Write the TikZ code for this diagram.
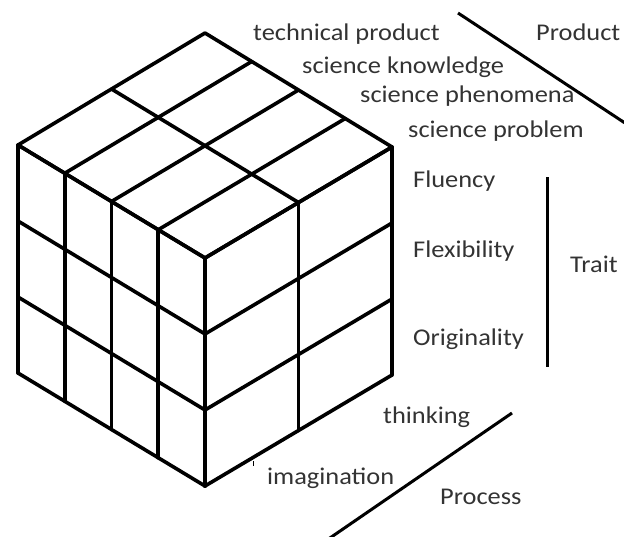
\documentclass[tikz,border=0pt]{standalone}
\usepackage{fontspec}
\setmainfont[FakeStretch=1.1]{Carlito}
\usetikzlibrary{calc}
\begin{document}
\begin{tikzpicture}[x=1pt,y=-1pt,
  edge/.style={line width=3.6pt,line cap=round,line join=round},
  axisline/.style={line width=3pt},
  lbl/.style={anchor=base west,inner sep=0pt,text=black!80,font=\fontsize{24}{24}\selectfont}]
\useasboundingbox (0,0) rectangle (624,536);
% cube corners
\coordinate (T) at (205,33);
\coordinate (L) at (18,145);
\coordinate (F) at (205,258);
\coordinate (R) at (392,147);
% left face: 4 columns, 3 rows
\foreach \i in {0,...,4}{
  \draw[edge] ($(L)!\i/4!(F)$) -- ++(0,228);
  \draw[edge] ($(L)!\i/4!(F)$) -- ($(T)!\i/4!(R)$);
}
\foreach \j in {0,...,3}{
  \draw[edge] ($(L)+(0,76*\j)$) -- ($(F)+(0,76*\j)$);
  \draw[edge] ($(F)+(0,76*\j)$) -- ($(R)+(0,76*\j)$);
}
% right face: 2 columns
\foreach \k in {0,...,2}{
  \draw[edge] ($(F)!\k/2!(R)$) -- ++(0,228);
  \draw[edge] ($(L)!\k/2!(T)$) -- ($(F)!\k/2!(R)$);
}
\draw[line width=1pt] (253,461) -- (253,466);
% labels
\node[lbl] (tp) at (253,40) {technical product};
\node[lbl] (sk) at (302,73) {science knowledge};
\node[lbl] (sph) at (360,102) {science phenomena};
\node[lbl] (spr) at (408,137) {science problem};
\node[lbl] (prod) at (536,40) {Product};
\node[lbl] (flu) at (413,187) {Fluency};
\node[lbl] (fle) at (413,257) {Flexibility};
\node[lbl] (ori) at (413,345) {Originality};
\node[lbl] (tr) at (570,272) {Trait};
\node[lbl] (thi) at (383,423) {thinking};
\node[lbl] (ima) at (267,484) {imagination};
\node[lbl] (proc) at (440,504) {Process};
% axis lines
\coordinate (p1) at (458,13);
\coordinate (p2) at (628,125);
\coordinate (t1) at (547,177);
\coordinate (t2) at (547,367);
\coordinate (q1) at (512,413);
\coordinate (q2) at (327,540);
\draw[axisline] (p1) -- (p2);
\draw[axisline] (t1) -- (t2);
\draw[axisline] (q1) -- (q2);
\end{tikzpicture}
\end{document}
